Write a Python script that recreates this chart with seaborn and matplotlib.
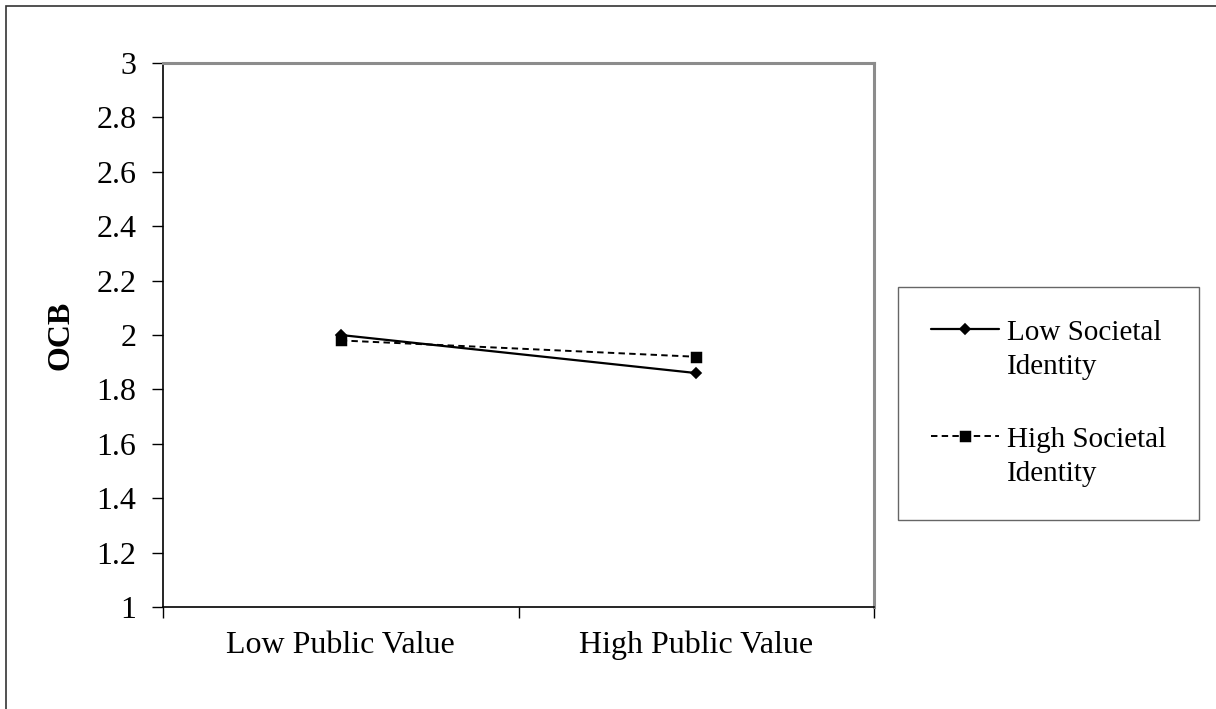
import numpy as np
import pandas as pd
import matplotlib.pyplot as plt
import matplotlib.patches as mpatches
from matplotlib.legend_handler import HandlerLine2D
import seaborn as sns

# data
categories = ['Low Public Value', 'High Public Value']
series_names = ['Low Societal\nIdentity', 'High Societal\nIdentity']
low_identity = [2.00, 1.86]
high_identity = [1.98, 1.92]
y_ticks = [1, 1.2, 1.4, 1.6, 1.8, 2, 2.2, 2.4, 2.6, 2.8, 3]

df = pd.DataFrame({
    'value': categories * 2,
    'ocb': low_identity + high_identity,
    'identity': [series_names[0]] * 2 + [series_names[1]] * 2,
})

sns.set_style('white')
plt.rcParams['font.family'] = ['Liberation Serif', 'DejaVu Serif']
plt.rcParams['font.size'] = 23
for key in ['text.color', 'axes.labelcolor', 'xtick.color', 'ytick.color']:
    plt.rcParams[key] = 'black'

fig = plt.figure(figsize=(12.16, 7.09), dpi=100)
ax = fig.add_axes([163 / 1216, 1 - 607 / 709, (874 - 163) / 1216, (607 - 63) / 709])

# one pointplot per series so each gets its own style
styles = [dict(marker='D', linestyle='-', linewidth=1.6, markersize=5.5),
          dict(marker='s', linestyle='--', linewidth=1.4, markersize=7.5)]
for name, st in zip(series_names, styles):
    sub = df[df['identity'] == name]
    sns.pointplot(data=sub, x='value', y='ocb', order=categories, color='black',
                  errorbar=None, label=name, ax=ax, **st)

for line in ax.lines:
    if line.get_linestyle() == '--':
        line.set_dashes([3.3, 2.2])

ax.set_ylim(1, 3)
ax.set_yticks(y_ticks)
ax.set_yticklabels([f'{t:g}' for t in y_ticks])
ax.set_xlim(-0.5, 1.5)
ax.set_xticks([0, 1])
ax.set_xticks([-0.5, 0.5, 1.5], minor=True)
ax.tick_params(axis='x', which='major', bottom=False, length=0, pad=17, labelsize=23)
ax.tick_params(axis='x', which='minor', bottom=True, length=8, width=1,
               color='black', direction='out')
ax.tick_params(axis='y', left=True, length=8, width=1, color='black',
               direction='out', pad=11, labelsize=23)
ax.set_xlabel('')
ax.set_ylabel('OCB', fontsize=23, fontweight='bold', labelpad=15)

for side in ['left', 'bottom']:
    ax.spines[side].set_color('black')
    ax.spines[side].set_linewidth(1.2)
for side in ['top', 'right']:
    ax.spines[side].set_color('#8c8c8c')
    ax.spines[side].set_linewidth(2.2)

LINESPACING = 1.4


# legend handle sits on the first text line, like the original
class TopLine(HandlerLine2D):
    def create_artists(self, legend, orig_handle, xdescent, ydescent,
                       width, height, fontsize, trans):
        arts = super().create_artists(legend, orig_handle, xdescent, ydescent,
                                      width, height, fontsize, trans)
        for a in arts:
            a.set_ydata(np.asarray(a.get_ydata()) + 0.5 * LINESPACING * fontsize)
        return arts


handles, labels = ax.get_legend_handles_labels()
leg = ax.legend(handles, labels, loc='upper left',
                bbox_to_anchor=(898 / 1216, 1 - 287 / 709), bbox_transform=fig.transFigure,
                frameon=True, fancybox=False, edgecolor='#404040', fontsize=21,
                handlelength=2.33, labelspacing=1.62, borderpad=1.12, handletextpad=0.28,
                borderaxespad=0, handler_map={h: TopLine() for h in handles})
leg.get_frame().set_linewidth(1.0)
for t in leg.get_texts():
    t.set_linespacing(LINESPACING)

# outer chart border (only left/top visible in the reference)
fig.patches.append(mpatches.Rectangle((6 / 1216, -0.1), 1.2, 1 - 6 / 709 + 0.1,
                                      transform=fig.transFigure, fill=False,
                                      edgecolor='#333333', linewidth=1.2))

fig.savefig('out.png', dpi=100)
